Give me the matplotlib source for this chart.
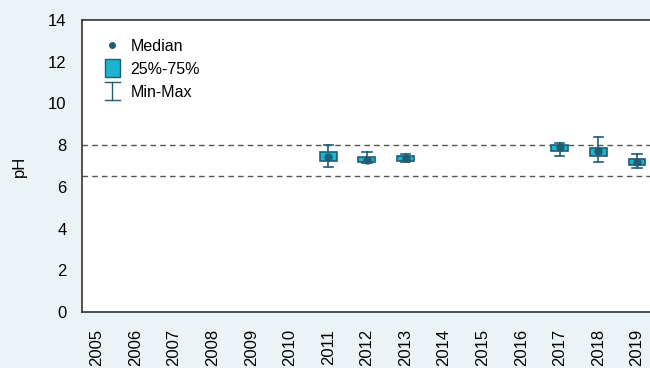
import matplotlib
matplotlib.use("Agg")
import matplotlib.pyplot as plt
from matplotlib.lines import Line2D
from matplotlib.patches import Patch, Rectangle
from matplotlib.legend_handler import HandlerBase

plt.rcParams['font.family'] = ['Liberation Sans', 'DejaVu Sans']

years = [str(y) for y in range(2005, 2020)]
# per-year stats, None where no samples
ph_min = [None, None, None, None, None, None, 6.97, 7.13, 7.19, None, None, None, 7.48, 7.19, 6.92]
ph_q1 = [None, None, None, None, None, None, 7.26, 7.18, 7.26, None, None, None, 7.73, 7.48, 7.03]
ph_median = [None, None, None, None, None, None, 7.45, 7.29, 7.37, None, None, None, 7.93, 7.72, 7.21]
ph_q3 = [None, None, None, None, None, None, 7.66, 7.45, 7.48, None, None, None, 8.00, 7.88, 7.32]
ph_max = [None, None, None, None, None, None, 8.00, 7.66, 7.58, None, None, None, 8.09, 8.37, 7.58]
limit_low = 6.5
limit_high = 8.0

bg = '#eaf4f6'
box_fill = '#1db4d0'
dark = '#1e5e75'

box_w = 0.44
cap_w = 0.24


class MinMaxHandler(HandlerBase):
    def create_artists(self, legend, orig_handle, xdescent, ydescent,
                       width, height, fontsize, trans):
        cx = width / 2 - xdescent
        cy = height / 2 - ydescent
        top, bot = cy + 6.3, cy - 6.3
        return [Line2D([cx, cx], [bot, top], color=dark, lw=1, transform=trans),
                Line2D([cx - 5.5, cx + 5.5], [top, top], color=dark, lw=1, transform=trans),
                Line2D([cx - 5.5, cx + 5.5], [bot, bot], color=dark, lw=1, transform=trans)]


class BoxHandler(HandlerBase):
    def create_artists(self, legend, orig_handle, xdescent, ydescent,
                       width, height, fontsize, trans):
        cx = width / 2 - xdescent
        cy = height / 2 - ydescent
        r = Rectangle((cx - 5.5, cy - 6.5), 11, 13,
                      facecolor=box_fill, edgecolor=dark, lw=1, transform=trans)
        return [r]


fig = plt.figure(figsize=(6.5, 3.68), dpi=100, facecolor=bg)
ax = fig.add_axes([0.126, 0.152, 0.874, 0.794])
ax.set_facecolor('white')

ax.axhline(limit_high, color='#555555', lw=1, ls=(0, (4, 3)), zorder=1)
ax.axhline(limit_low, color='#555555', lw=1, ls=(0, (4, 3)), zorder=1)

for i in range(len(years)):
    if ph_median[i] is None:
        continue
    ax.plot([i, i], [ph_min[i], ph_max[i]], color=dark, lw=1.2, zorder=2)
    ax.plot([i - cap_w / 2, i + cap_w / 2], [ph_max[i]] * 2, color=dark, lw=1.2, zorder=2)
    ax.plot([i - cap_w / 2, i + cap_w / 2], [ph_min[i]] * 2, color=dark, lw=1.2, zorder=2)
    ax.add_patch(Rectangle((i - box_w / 2, ph_q1[i]), box_w, ph_q3[i] - ph_q1[i],
                           facecolor=box_fill, edgecolor=dark, lw=1.2, zorder=3))
    ax.plot(i, ph_median[i], 'o', color=dark, ms=5, zorder=4)

ax.set_xlim(-0.389, 14.337)
ax.set_ylim(0, 14)
ax.set_xticks(range(len(years)))
ax.set_xticklabels(years, rotation=90, fontsize=12)
ax.set_yticks(range(0, 15, 2))
ax.tick_params(axis='both', length=0, labelsize=12, colors='black')
ax.tick_params(axis='x', pad=12)
ax.tick_params(axis='y', pad=11)
ax.set_ylabel('pH', fontsize=12)
ax.yaxis.set_label_coords(-0.097, 0.5)

for s in ['left', 'top', 'bottom']:
    ax.spines[s].set_color('#333333')
    ax.spines[s].set_linewidth(1.2)
ax.spines['right'].set_visible(False)

median_h = Line2D([], [], marker='o', color=dark, ls='none', ms=4)
box_h = Patch()
range_h = Line2D([], [])
ax.legend([median_h, box_h, range_h], ['Median', '25%-75%', 'Min-Max'],
          handler_map={box_h: BoxHandler(), range_h: MinMaxHandler()},
          loc='upper left', bbox_to_anchor=(0.01, 0.985), frameon=False,
          fontsize=11.5, handlelength=1.3, handletextpad=0.5, labelspacing=0.5)

fig.savefig('out.png', dpi=100, facecolor=bg)
